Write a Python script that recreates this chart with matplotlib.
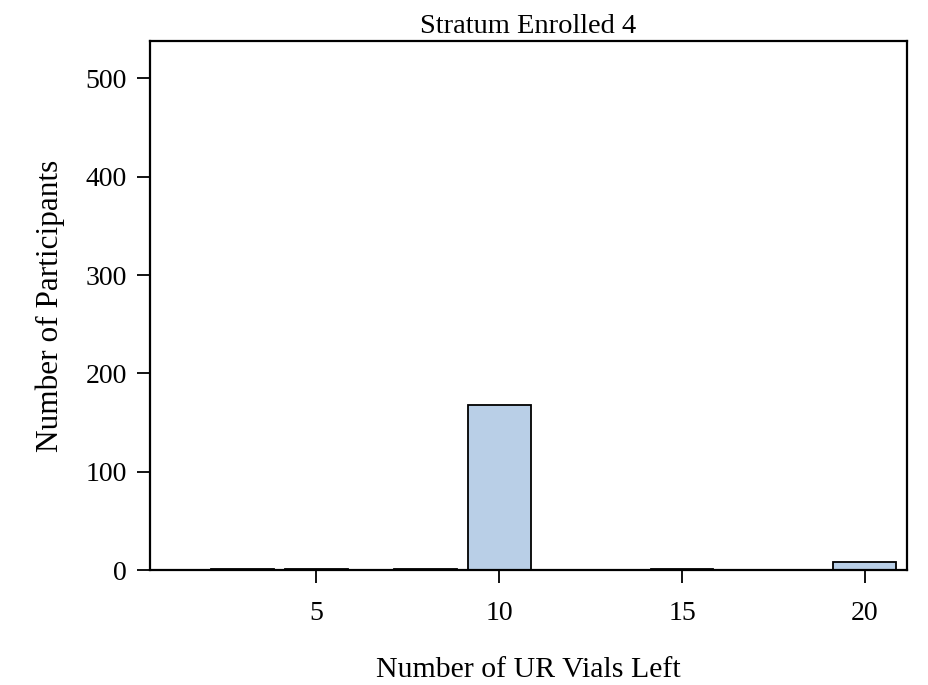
import matplotlib
matplotlib.use("Agg")
import matplotlib.pyplot as plt

vials_left = [3, 5, 8, 10, 15, 20]
participants = [1, 1, 1, 168, 1, 8]
x_ticks = [5, 10, 15, 20]
y_ticks = [0, 100, 200, 300, 400, 500]
title = "Stratum Enrolled 4"
xlabel = "Number of UR Vials Left"
ylabel = "Number of Participants"

plt.rcParams['font.family'] = ['Liberation Serif', 'DejaVu Serif']

fig = plt.figure(figsize=(9.29, 6.85), dpi=100)
ax = fig.add_axes([150/929, 1-570/685, (907-150)/929, (570-41)/685])

ax.bar(vials_left, participants, width=1.72, color='#B9CFE7', edgecolor='black', linewidth=1.3)

ax.set_xlim(0.46, 21.15)
ax.set_ylim(0, 538)
ax.set_xticks(x_ticks)
ax.set_yticks(y_ticks)
for s in ax.spines.values():
    s.set_linewidth(1.6)
ax.tick_params(axis='both', direction='out', length=9.5, width=1.3, labelsize=20)
ax.tick_params(axis='x', pad=13)
ax.tick_params(axis='y', pad=7)
ax.set_title(title, fontsize=20.5, pad=6)
ax.set_xlabel(xlabel, fontsize=21.5, labelpad=22)
ax.set_ylabel(ylabel, fontsize=22.5, labelpad=15)

fig.savefig("out.png", dpi=100)
